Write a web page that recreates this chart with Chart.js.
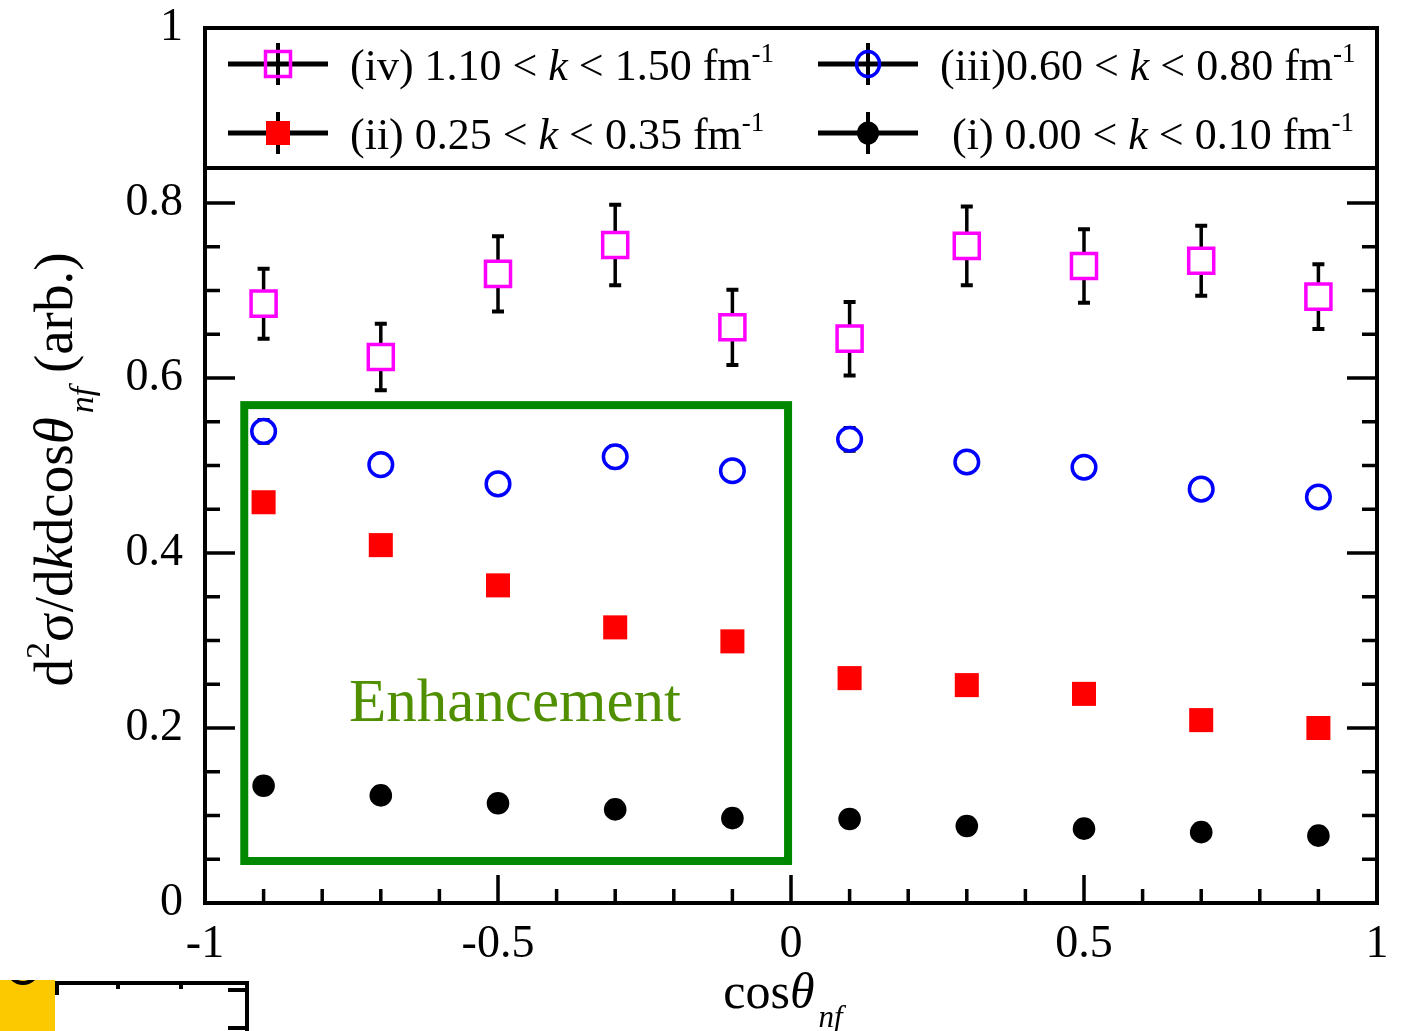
<!DOCTYPE html>
<html>
<head>
<meta charset="utf-8">
<script src="https://cdn.jsdelivr.net/npm/chart.js@4"></script>
<style>
  html, body { margin: 0; padding: 0; background: #fff; }
  #wrap { width: 1408px; height: 1031px; }
</style>
</head>
<body>
<div id="wrap"><canvas id="chart" width="1408" height="1031"></canvas></div>
<script>
// values
const cosTheta = [-0.9, -0.7, -0.5, -0.3, -0.1, 0.1, 0.3, 0.5, 0.7, 0.9];

const valsIV  = [0.685, 0.624, 0.719, 0.752, 0.658, 0.645, 0.751, 0.728, 0.734, 0.693];
const errIV   = [0.040, 0.038, 0.043, 0.046, 0.043, 0.042, 0.045, 0.042, 0.040, 0.037];
const valsIII = [0.539, 0.501, 0.479, 0.510, 0.494, 0.530, 0.504, 0.498, 0.473, 0.464];
const errIII  = [0.013, 0.008, 0.008, 0.012, 0.008, 0.013, 0.008, 0.008, 0.008, 0.008];
const valsII  = [0.458, 0.409, 0.363, 0.315, 0.299, 0.257, 0.249, 0.239, 0.209, 0.200];
const valsI   = [0.134, 0.123, 0.114, 0.107, 0.097, 0.096, 0.088, 0.085, 0.081, 0.077];

const xTicks = [-1, -0.5, 0, 0.5, 1];
const yTicks = [0, 0.2, 0.4, 0.6, 0.8, 1];

// "Enhancement" box, in data units
const boxX = [-0.933, -0.005];
const boxY = [0.048, 0.569];
const boxLabel = 'Enhancement';
const boxLabelAt = [-0.471, 0.208];

const FONT = '"Liberation Serif", "Times New Roman", serif';

function toPoints(vals) {
    return cosTheta.map((c, i) => ({ x: c, y: vals[i] }));
}

function drawRich(ctx, parts, x, y, size, align) {
    const fontFor = p => (p.italic ? 'italic ' : '') +
        Math.round((p.sup || p.sub) ? size * 0.62 : size) + 'px ' + FONT;
    let total = 0;
    const widths = parts.map(p => {
        ctx.font = fontFor(p);
        const w = ctx.measureText(p.t).width + (p.gap || 0);
        total += w;
        return w;
    });
    let cx = align === 'center' ? x - total / 2 : x;
    ctx.textAlign = 'left';
    ctx.textBaseline = 'alphabetic';
    parts.forEach((p, i) => {
        ctx.font = fontFor(p);
        let dy = 0;
        if (p.sup) dy = -size * 0.42;
        if (p.sub) dy = size * 0.38;
        ctx.fillText(p.t, cx + (p.gap || 0), y + dy);
        cx += widths[i];
    });
}

function drawMarker(ctx, kind, x, y, fill) {
    ctx.save();
    if (kind === 'openSquare') {
        ctx.lineWidth = 3.5;
        ctx.strokeStyle = '#ff00ff';
        if (fill) { ctx.fillStyle = '#fff'; ctx.fillRect(x - 12.5, y - 12.5, 25, 25); }
        ctx.strokeRect(x - 12.5, y - 12.5, 25, 25);
    } else if (kind === 'openCircle') {
        ctx.lineWidth = 3.5;
        ctx.strokeStyle = '#0000ff';
        ctx.beginPath();
        ctx.ellipse(x, y, 11.5, 12.5, 0, 0, Math.PI * 2);
        if (fill) { ctx.fillStyle = '#fff'; ctx.fill(); }
        ctx.stroke();
    } else if (kind === 'square') {
        ctx.fillStyle = '#ff0000';
        ctx.fillRect(x - 12, y - 12, 24, 24);
    } else {
        ctx.fillStyle = '#000';
        ctx.beginPath();
        ctx.ellipse(x, y, 11, 11.5, 0, 0, Math.PI * 2);
        ctx.fill();
    }
    ctx.restore();
}

const legendItems = [
    { kind: 'openSquare', col: 0, row: 0,
      parts: [{ t: '(iv) 1.10 < ' }, { t: 'k', italic: true }, { t: ' < 1.50 fm' }, { t: '-1', sup: true }] },
    { kind: 'openCircle', col: 1, row: 0,
      parts: [{ t: '(iii)0.60 < ' }, { t: 'k', italic: true }, { t: ' < 0.80 fm' }, { t: '-1', sup: true }] },
    { kind: 'square', col: 0, row: 1,
      parts: [{ t: '(ii) 0.25 < ' }, { t: 'k', italic: true }, { t: ' < 0.35 fm' }, { t: '-1', sup: true }] },
    { kind: 'dot', col: 1, row: 1,
      parts: [{ t: '(i) 0.00 < ' }, { t: 'k', italic: true }, { t: ' < 0.10 fm' }, { t: '-1', sup: true }] }
];

// error bars under the markers
const errorBars = {
    id: 'errorBars',
    beforeDatasetsDraw(chart) {
        const ctx = chart.ctx;
        const xs = chart.scales.x, ys = chart.scales.y;
        ctx.save();
        ctx.strokeStyle = '#000';
        chart.data.datasets.forEach(ds => {
            if (!ds.errors) return;
            ds.data.forEach((p, i) => {
                const px = xs.getPixelForValue(p.x);
                const top = ys.getPixelForValue(p.y + ds.errors[i]);
                const bot = ys.getPixelForValue(p.y - ds.errors[i]);
                ctx.lineWidth = 3.5;
                ctx.beginPath();
                ctx.moveTo(px, top); ctx.lineTo(px, bot);
                ctx.stroke();
                ctx.lineWidth = 4;
                ctx.beginPath();
                ctx.moveTo(px - 6, top); ctx.lineTo(px + 6, top);
                ctx.moveTo(px - 6, bot); ctx.lineTo(px + 6, bot);
                ctx.stroke();
            });
        });
        ctx.restore();
    }
};

const decorations = {
    id: 'decorations',
    beforeDraw(chart) {
        const ctx = chart.ctx;
        ctx.save();
        ctx.fillStyle = '#fff';
        ctx.fillRect(0, 0, chart.width, chart.height);
        ctx.restore();
    },
    afterDatasetsDraw(chart) {
        const ctx = chart.ctx;
        const xs = chart.scales.x, ys = chart.scales.y;
        const a = chart.chartArea;
        ctx.save();

        // enhancement box and label
        const bx0 = xs.getPixelForValue(boxX[0]), bx1 = xs.getPixelForValue(boxX[1]);
        const by0 = ys.getPixelForValue(boxY[1]), by1 = ys.getPixelForValue(boxY[0]);
        ctx.strokeStyle = '#008800';
        ctx.lineWidth = 8;
        ctx.strokeRect(bx0, by0, bx1 - bx0, by1 - by0);
        ctx.fillStyle = '#4f8f00';
        ctx.font = '61px ' + FONT;
        ctx.textAlign = 'center';
        ctx.textBaseline = 'alphabetic';
        ctx.fillText(boxLabel, xs.getPixelForValue(boxLabelAt[0]), ys.getPixelForValue(boxLabelAt[1]));

        // inward ticks on all sides
        ctx.strokeStyle = '#000';
        ctx.lineWidth = 3.5;
        ctx.beginPath();
        for (let i = -10; i <= 10; i++) {
            const v = i / 10;
            const px = xs.getPixelForValue(v);
            const len = (i % 5 === 0) ? 28 : 14;
            ctx.moveTo(px, a.bottom); ctx.lineTo(px, a.bottom - len);
            ctx.moveTo(px, a.top); ctx.lineTo(px, a.top + len);
        }
        for (let i = 0; i <= 20; i++) {
            const v = i / 20;
            const py = ys.getPixelForValue(v);
            const len = (i % 4 === 0) ? 30 : 15;
            ctx.moveTo(a.left, py); ctx.lineTo(a.left + len, py);
            ctx.moveTo(a.right, py); ctx.lineTo(a.right - len, py);
        }
        ctx.stroke();

        // legend box inside the top of the frame
        const legBottom = 168;
        ctx.fillStyle = '#fff';
        ctx.fillRect(a.left, a.top, a.right - a.left, legBottom - a.top);
        ctx.lineWidth = 4;
        ctx.beginPath();
        ctx.moveTo(a.left, legBottom); ctx.lineTo(a.right, legBottom);
        ctx.stroke();

        const colX = [a.left + 23, a.left + 613];
        const textX = [a.left + 145, [a.left + 735, a.left + 747]];
        const rowY = [64, 133];
        const baseY = [80, 149];
        legendItems.forEach(it => {
            const x0 = colX[it.col];
            const cy = rowY[it.row];
            const mx = x0 + 50;
            ctx.strokeStyle = '#000';
            ctx.lineWidth = 5;
            ctx.beginPath();
            ctx.moveTo(x0, cy); ctx.lineTo(x0 + 100, cy);
            ctx.stroke();
            ctx.lineWidth = 4;
            ctx.beginPath();
            ctx.moveTo(mx, cy - 21); ctx.lineTo(mx, cy + 21);
            ctx.stroke();
            drawMarker(ctx, it.kind, mx, cy, false);
            ctx.fillStyle = '#000';
            const tx = it.col === 0 ? textX[0] : textX[1][it.row];
            drawRich(ctx, it.parts, tx, baseY[it.row], 44, 'left');
        });

        // frame
        ctx.lineWidth = 4;
        ctx.strokeStyle = '#000';
        ctx.strokeRect(a.left, a.top, a.right - a.left, a.bottom - a.top);

        // axis titles
        ctx.fillStyle = '#000';
        drawRich(ctx, [{ t: 'cos' }, { t: 'θ', italic: true }, { t: 'nf', italic: true, sub: true, gap: 4 }],
            (a.left + a.right) / 2 - 8, 1008, 50, 'center');
        ctx.translate(72, (a.top + a.bottom) / 2 + 4);
        ctx.rotate(-Math.PI / 2);
        drawRich(ctx, [
            { t: 'd' }, { t: '2', sup: true }, { t: 'σ/d' }, { t: 'k', italic: true },
            { t: 'dcos' }, { t: 'θ', italic: true }, { t: 'nf', italic: true, sub: true, gap: 4 },
            { t: ' (arb.)' }
        ], 0, 0, 55, 'center');
        ctx.restore();

        // cropped corner of a neighbouring panel
        ctx.save();
        ctx.fillStyle = '#fcc800';
        ctx.fillRect(0, 980, 55, 51);
        ctx.beginPath();
        ctx.rect(0, 980, 55, 51);
        ctx.clip();
        ctx.strokeStyle = '#000';
        ctx.lineWidth = 4;
        ctx.beginPath();
        ctx.arc(23, 968, 15, 0, Math.PI * 2);
        ctx.stroke();
        ctx.restore();
        ctx.save();
        ctx.strokeStyle = '#000';
        ctx.lineWidth = 4;
        ctx.beginPath();
        ctx.moveTo(55, 983); ctx.lineTo(247, 983); ctx.lineTo(247, 1031);
        ctx.moveTo(57, 983); ctx.lineTo(57, 995);
        ctx.moveTo(118, 983); ctx.lineTo(118, 989);
        ctx.moveTo(181, 983); ctx.lineTo(181, 989);
        ctx.moveTo(247, 990); ctx.lineTo(228, 990);
        ctx.moveTo(247, 1028); ctx.lineTo(228, 1028);
        ctx.stroke();
        ctx.restore();
    }
};

const ctx = document.getElementById('chart').getContext('2d');
new Chart(ctx, {
    type: 'scatter',
    data: {
        datasets: [{
            label: '(i)',
            data: toPoints(valsI),
            pointStyle: 'circle',
            pointRadius: 11.3,
            backgroundColor: '#000',
            borderColor: '#000',
            borderWidth: 0
        }, {
            label: '(ii)',
            data: toPoints(valsII),
            pointStyle: 'rect',
            pointRadius: 17,
            backgroundColor: '#ff0000',
            borderColor: '#ff0000',
            borderWidth: 0
        }, {
            label: '(iii)',
            data: toPoints(valsIII),
            errors: errIII,
            pointStyle: 'circle',
            pointRadius: 11.8,
            backgroundColor: '#fff',
            borderColor: '#0000ff',
            borderWidth: 3.5
        }, {
            label: '(iv)',
            data: toPoints(valsIV),
            errors: errIV,
            pointStyle: 'rect',
            pointRadius: 17.7,
            backgroundColor: '#fff',
            borderColor: '#ff00ff',
            borderWidth: 3.5
        }]
    },
    options: {
        responsive: false,
        animation: false,
        events: [],
        layout: { padding: { top: 28, right: 31, bottom: 0, left: 0 } },
        plugins: {
            legend: { display: false },
            tooltip: { enabled: false }
        },
        scales: {
            x: {
                type: 'linear',
                min: -1,
                max: 1,
                afterBuildTicks: s => { s.ticks = xTicks.map(v => ({ value: v })); },
                afterFit: s => { s.height = 128; s.paddingLeft = 0; s.paddingRight = 0; },
                grid: { display: false },
                border: { display: false },
                ticks: {
                    color: '#000',
                    padding: 6,
                    maxRotation: 0,
                    font: { family: FONT, size: 46 },
                    callback: v => String(v)
                }
            },
            y: {
                min: 0,
                max: 1,
                afterBuildTicks: s => { s.ticks = yTicks.map(v => ({ value: v })); },
                afterFit: s => { s.width = 205; s.paddingTop = 0; s.paddingBottom = 0; },
                grid: { display: false },
                border: { display: false },
                ticks: {
                    color: '#000',
                    padding: 14,
                    font: { family: FONT, size: 46 },
                    callback: v => String(+v.toFixed(1))
                }
            }
        }
    },
    plugins: [decorations, errorBars]
});
</script>
</body>
</html>
